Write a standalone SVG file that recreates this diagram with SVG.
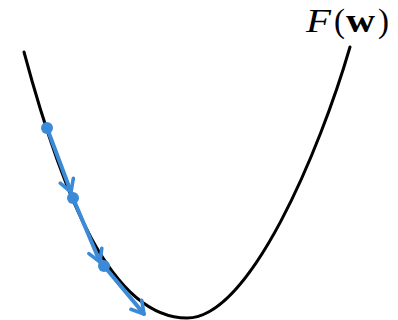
<svg xmlns="http://www.w3.org/2000/svg" width="398" height="320" viewBox="0 0 398 320">
  <style>
    .curve { fill: none; stroke: #000; stroke-width: 3; stroke-linecap: round; }
    .step { fill: none; stroke: #3a8ad8; stroke-width: 4; stroke-linecap: round; }
    .dot { fill: #3a8ad8; }
    .lbl { font-family: "Liberation Serif", "DejaVu Serif", serif; font-size: 33px; fill: #000; }
  </style>
  <defs>
    <marker id="chev" markerUnits="userSpaceOnUse" markerWidth="18" markerHeight="18" viewBox="0 0 18 18" refX="15" refY="9" orient="auto">
      <path d="M3,2 L15,9 L3,16" fill="none" stroke="#3a8ad8" stroke-width="3.6" stroke-linecap="round" stroke-linejoin="round"/>
    </marker>
  </defs>
  <g id="curve">
    <path class="curve" d="M24,52 C61,190 110,318 187,318 C250,318 320,150 350,47"/>
  </g>
  <g id="label">
    <text class="lbl" y="32"><tspan x="306" font-style="italic" textLength="25" lengthAdjust="spacingAndGlyphs">F</tspan><tspan x="334">(</tspan><tspan x="346" font-weight="bold" textLength="29" lengthAdjust="spacingAndGlyphs">w</tspan><tspan x="378">)</tspan></text>
  </g>
  <g id="connectors">
    <line class="step" x1="47" y1="128" x2="71" y2="192" marker-end="url(#chev)"/>
    <line class="step" x1="73" y1="198" x2="100" y2="262" marker-end="url(#chev)"/>
    <line class="step" x1="104" y1="266" x2="144" y2="314" marker-end="url(#chev)"/>
  </g>
  <g id="p1"><circle class="dot" cx="47" cy="128" r="6"/></g>
  <g id="p2"><circle class="dot" cx="73" cy="198" r="6"/></g>
  <g id="p3"><circle class="dot" cx="104" cy="266" r="6"/></g>
</svg>
